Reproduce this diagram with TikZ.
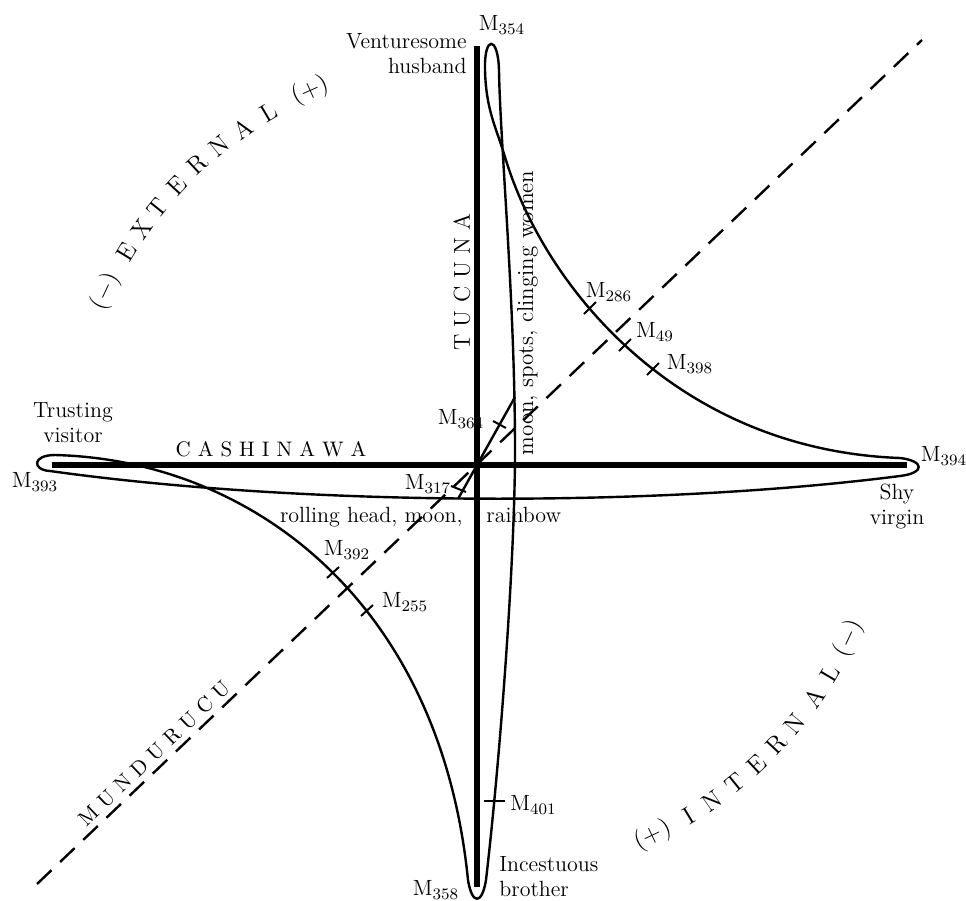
\documentclass[tikz,border=0pt]{standalone}
\usepackage{amsmath}
\usepackage{tikz}
\usetikzlibrary{calc}

\begin{document}
\begin{tikzpicture}[x=0.5pt, y=-0.5pt,
    bar/.style={line width=3.3pt},
    curve/.style={line width=1.2pt, line join=round},
    tickmark/.style={line width=1pt},
    dashline/.style={line width=1.2pt, dash pattern=on 10pt off 6pt},
    lbl/.style={font=\fontsize{11}{12.5}\selectfont, inner sep=1pt},
    caps/.style={font=\fontsize{10.5}{12}\selectfont, inner sep=0pt},
    arcs/.style={font=\fontsize{12.5}{14}\selectfont, inner sep=0pt}]
  \useasboundingbox (0,0) rectangle (966,901);

  % Centre and bar ends
  \coordinate (ctr) at (477,465);
  \coordinate (bartop) at (477,46);
  \coordinate (barbot) at (477,887);
  \coordinate (barleft) at (52,465);
  \coordinate (barright) at (907,465);

  % Mundurucu axis (dashed)
  \coordinate (dl) at (37,884);
  \coordinate (dr) at (922,40);
  \draw[dashline] (dl) -- node[pos=0.143, sloped, above, caps, inner sep=2.5pt] (mund) {M U N D U R U C U} (dr);

  % Tucuna and Cashinawa axes
  \draw[bar] (bartop) -- (barbot);
  \draw[bar] (barleft) -- (barright);

  % The looped curve through the four ends
  \draw[curve] (505,157)
    .. controls (545,290) and (680,450) .. (900,458)
    .. controls (925,461) and (925,473) .. (900,476)
    .. controls (650,508) and (300,506) .. (50,471)
    .. controls (32,470) and (32,455) .. (55,455)
    .. controls (250,460) and (440,600) .. (468,880)
    .. controls (472,905) and (482,905) .. (486,880)
    .. controls (500,760) and (515,560) .. (515,450)
    .. controls (515,300) and (500,140) .. (499,70)
    .. controls (498,35) and (484,35) .. (485,70)
    .. controls (486,110) and (496,127) .. (505,157);

  % Short links at the centre
  \coordinate (spot) at (515,397);
  \coordinate (low) at (458,499);
  \draw[curve] (ctr) -- (spot);
  \draw[curve] (ctr) -- (low);

  % Myth ticks
  \draw[tickmark] (584,314) -- (596,302);
  \draw[tickmark] (619,351) -- (631,339);
  \draw[tickmark] (647,375) -- (659,363);
  \draw[tickmark] (327,578) -- (339,567);
  \draw[tickmark] (361,616) -- (373,605);
  \draw[tickmark] (484,801) -- (505,801);
  \draw[tickmark] (493,421) -- (506,428);
  \draw[tickmark] (451,486) -- (466,492);

  % Myth labels
  \node[lbl] (m354) at (502,25) {M$_{354}$};
  \node[lbl] (m286) at (609,292) {M$_{286}$};
  \node[lbl] (m49) at (655,332) {M$_{49}$};
  \node[lbl] (m398) at (690,364) {M$_{398}$};
  \node[lbl] (m364) at (461,419) {M$_{364}$};
  \node[lbl] (m317) at (428,484) {M$_{317}$};
  \node[lbl] (m393) at (35,482) {M$_{393}$};
  \node[lbl] (m394) at (944,456) {M$_{394}$};
  \node[lbl] (m392) at (347,550) {M$_{392}$};
  \node[lbl] (m255) at (405,602) {M$_{255}$};
  \node[lbl, anchor=west] (m401) at (508,805) {M$_{401}$};
  \node[lbl] (m358) at (436,890) {M$_{358}$};

  % Characters at the ends
  \node[lbl, anchor=north east, align=right] (husband) at (469,31) {Venturesome\\husband};
  \node[lbl, align=center] (visitor) at (73,423) {Trusting\\visitor};
  \node[lbl, align=center] (virgin) at (897,507) {Shy\\virgin};
  \node[lbl, anchor=north west, align=left] (brother) at (497,854) {Incestuous\\brother};

  % Axis names
  \node[caps, font=\fontsize{11.5}{12}\selectfont, rotate=90] (tucuna) at (462,282) {T U C U N A};
  \node[caps] (cashinawa) at (271,449) {C A S H I N A W A};

  % Motifs along the strands
  \node[lbl, font=\fontsize{11.5}{12.5}\selectfont, rotate=90, anchor=base west] (moon) at (533,458) {moon, spots, clinging women};
  \node[lbl, anchor=base east] (rolling) at (465,522) {rolling head, moon,};
  \node[lbl, anchor=base west] (rainbow) at (484,522) {rainbow};

  % Arcs of letters
  \foreach \a/\t [count=\i] in {155/{($-$)}, 148.7/E, 144.8/X, 141.2/T, 137.1/E,
      132.9/R, 128.9/N, 124.9/A, 120.6/L, 114/{(+)}}
    \node[arcs, rotate=\a-90] (ext\i) at ($(ctr)+(\a:205pt)$) {\t};
  \foreach \a/\t [count=\i] in {-64.6/{(+)}, -58.9/I, -55/N, -51/T, -46.9/E,
      -43/R, -39.2/N, -34.6/A, -30.6/L, -25/{($-$)}}
    \node[arcs, rotate=\a+90] (int\i) at ($(ctr)+(\a:205pt)$) {\t};
\end{tikzpicture}
\end{document}
